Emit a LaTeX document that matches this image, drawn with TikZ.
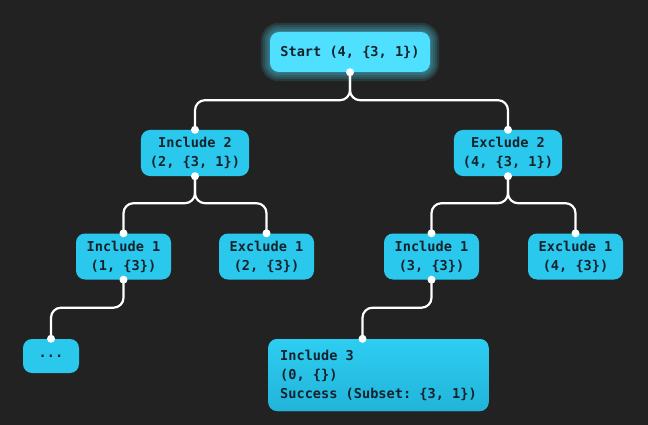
\documentclass[tikz,border=0pt]{standalone}
\usepackage{fontspec}
\setmonofont{DejaVu Sans Mono}
\usetikzlibrary{backgrounds}

\definecolor{bgdark}{HTML}{222222}
\definecolor{boxcyan}{HTML}{2BC8EE}
\definecolor{startcyan}{HTML}{4FE0FF}
\definecolor{nodetext}{HTML}{14232B}
\definecolor{succtop}{HTML}{2ECDF2}
\definecolor{succbot}{HTML}{22B4D9}

\begin{document}
\begin{tikzpicture}
    [x=1pt, y=-1pt,
    every node/.style={font=\ttfamily\bfseries\fontsize{13.6}{19}\selectfont,text=nodetext},
    box/.style={fill=boxcyan,rounded corners=9pt,align=center,inner xsep=9pt,
      minimum height=46pt,minimum width=95pt},
    link/.style={draw=white,line width=2.2pt,rounded corners=10pt}]
    \useasboundingbox (0,0) rectangle (648,425);
    % tree nodes
    \node [box,fill=startcyan,minimum width=160pt,minimum height=40pt] (S) at (350,52) {Start (4, \{3, 1\})};
    \node [box,minimum width=107pt] (I2) at (195,153) {Include 2\\(2, \{3, 1\})};
    \node [box,minimum width=104pt] (E2) at (508,153) {Exclude 2\\(4, \{3, 1\})};
    \node [box] (I1a) at (123.5,256.5) {Include 1\\(1, \{3\})};
    \node [box] (E1a) at (266.5,256.5) {Exclude 1\\(2, \{3\})};
    \node [box] (I1b) at (431.5,256.5) {Include 1\\(3, \{3\})};
    \node [box] (E1b) at (575.5,256.5) {Exclude 1\\(4, \{3\})};
    \node [box,minimum width=56pt,minimum height=34pt,inner ysep=0pt] (D) at (51,356) {...};
    \node [box,align=left,minimum width=219pt,minimum height=72pt,inner xsep=12pt,
      top color=succtop,bottom color=succbot] (I3) at (378.5,375)
      {Include 3\\(0, \{\})\\Success (Subset: \{3, 1\})};
    \coordinate (i3top) at ([xshift=-16pt]I3.north);
    % connectors
    \draw [link] (S.south) -- ++(0,28) -| (I2.north);
    \draw [link] (S.south) -- ++(0,28) -| (E2.north);
    \draw [link] (I2.south) -- ++(0,27) -| (I1a.north);
    \draw [link] (I2.south) -- ++(0,27) -| (E1a.north);
    \draw [link] (E2.south) -- ++(0,27) -| (I1b.north);
    \draw [link] (E2.south) -- ++(0,27) -| (E1b.north);
    \draw [link] (I1a.south) -- ++(0,28) -| (D.north);
    \draw [link] (I1b.south) -- ++(0,28) -| (i3top);
    \foreach \p in {S.south,I2.north,E2.north,I2.south,E2.south,I1a.north,E1a.north,
      I1b.north,E1b.north,I1a.south,I1b.south,D.north,i3top}
      \fill [white] (\p) circle (4pt);
  \begin{pgfonlayer}{background}
    \fill [bgdark] (0,0) rectangle (648,425);
    \foreach \g in {9,7,5,3,1}
      \fill [startcyan,opacity=0.12,rounded corners=9pt+\g pt]
        ([shift={(-\g,-\g)}]S.north west) rectangle ([shift={(\g,\g)}]S.south east);
  \end{pgfonlayer}
  \end{tikzpicture}
\end{document}
